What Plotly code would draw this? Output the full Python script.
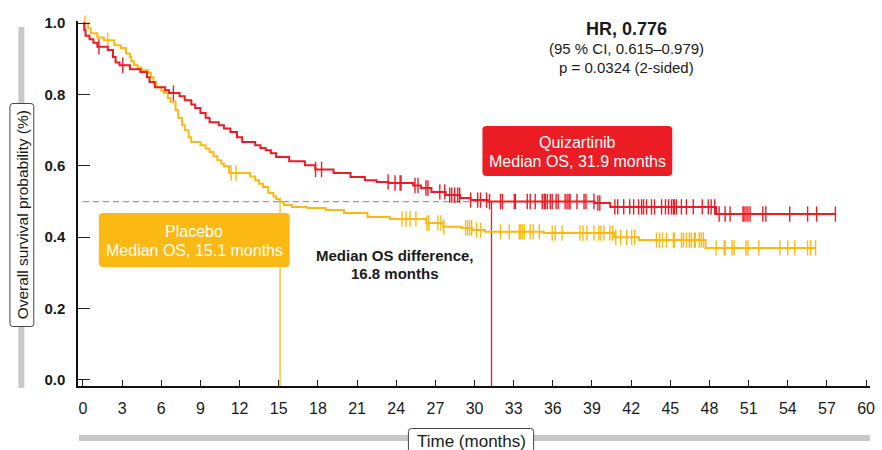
import numpy as np
import plotly.graph_objects as go

# ---------------- data ----------------
x_ticks = list(range(0, 61, 3))
y_ticks = [0.0, 0.2, 0.4, 0.6, 0.8, 1.0]
y_ticklabels = ["0.0", "0.2", "0.4", "0.6", "0.8", "1.0"]

# Quizartinib KM steps (months, survival probability after the step)
quiz_times = [0, 0.1, 0.2, 0.5, 0.8, 1.1, 1.9, 2.3, 2.5, 2.8, 3.6, 4.4, 4.9, 5.1, 5.5,
              6.3, 6.6, 7.4, 7.8, 8.3, 8.6, 9.0, 9.4, 9.7, 10.4, 10.8, 11.3, 11.8, 12.2,
              13.2, 13.6, 14.0, 14.4, 14.8, 15.8, 17.0, 17.8, 19.2, 20.5, 21.6, 22.5,
              23.4, 25.3, 25.9, 26.7, 27.8, 28.9, 29.7, 31.0, 39.2, 40.4, 48.5]
quiz_surv = [1.0, 0.98, 0.965, 0.955, 0.945, 0.934, 0.925, 0.905, 0.89, 0.882, 0.871, 0.863,
             0.848, 0.835, 0.82, 0.812, 0.804, 0.795, 0.784, 0.772, 0.762, 0.748, 0.735,
             0.722, 0.714, 0.705, 0.695, 0.68, 0.667, 0.658, 0.65, 0.644, 0.635, 0.625,
             0.613, 0.602, 0.59, 0.58, 0.569, 0.56, 0.555, 0.552, 0.545, 0.538, 0.527,
             0.518, 0.51, 0.504, 0.5, 0.496, 0.485, 0.465]
quiz_end = 57.65
quiz_censor = [1.22, 3.05, 6.93, 17.82, 18.28, 23.38, 23.91, 24.30, 24.37, 25.44, 25.67,
               26.28, 26.43, 27.34, 27.72, 28.10, 28.26, 28.48, 28.71, 28.86, 29.70, 30.24,
               30.46, 30.92, 31.15, 31.99, 32.14, 33.05, 33.13, 34.04, 34.27, 34.65, 35.19,
               35.34, 35.42, 35.57, 35.80, 35.95, 36.25, 36.41, 36.94, 37.09, 37.24, 37.32,
               37.85, 38.39, 38.54, 39.15, 39.45, 39.60, 40.75, 40.97, 41.43, 41.89, 42.19,
               42.57, 42.80, 42.95, 43.18, 43.56, 43.79, 44.33, 44.63, 44.86, 45.09, 45.24,
               45.32, 45.47, 45.85, 46.23, 46.76, 47.45, 47.91, 48.13, 48.40, 48.74, 49.20,
               49.58, 50.57, 50.65, 50.80, 50.95, 51.11, 52.09, 52.32, 54.15, 55.52, 56.21,
               57.65]

# Placebo KM steps
plac_times = [0, 0.4, 0.6, 1.1, 1.6, 2.4, 2.9, 3.3, 3.6, 3.7, 3.9, 4.2, 4.5, 5.0, 5.2, 5.4,
              5.6, 6.0, 6.2, 6.5, 6.7, 7.1, 7.3, 7.6, 7.8, 8.1, 8.3, 9.0, 9.4, 9.7, 10.0,
              10.3, 10.6, 10.8, 11.2, 12.8, 13.2, 13.5, 13.8, 14.2, 14.6, 14.8, 15.1, 15.4,
              16.0, 17.2, 18.6, 20.0, 21.8, 23.5, 26.3, 27.6, 29.0, 29.8, 30.8, 35.3, 40.7,
              42.6, 47.7]
plac_surv = [1.0, 0.986, 0.972, 0.96, 0.952, 0.938, 0.93, 0.915, 0.905, 0.893, 0.882, 0.875,
             0.868, 0.86, 0.848, 0.835, 0.82, 0.81, 0.804, 0.79, 0.78, 0.756, 0.734, 0.714,
             0.70, 0.68, 0.667, 0.658, 0.648, 0.639, 0.627, 0.616, 0.606, 0.599, 0.58, 0.57,
             0.56, 0.55, 0.541, 0.524, 0.514, 0.507, 0.499, 0.49, 0.485, 0.482, 0.476,
             0.468, 0.457, 0.451, 0.44, 0.429, 0.426, 0.42, 0.415, 0.412, 0.40, 0.392, 0.37]
plac_end = 56.13
plac_censor = [0.15, 1.90, 11.35, 11.73, 24.45, 24.75, 25.06, 25.51, 26.35, 26.50, 27.19,
               27.42, 27.65, 29.32, 29.47, 29.63, 29.78, 30.16, 30.46, 31.99, 32.67, 33.43,
               33.51, 33.66, 33.82, 34.27, 34.50, 34.96, 35.95, 36.18, 36.71, 38.08, 38.31,
               38.61, 39.15, 39.53, 39.68, 39.91, 40.37, 40.59, 40.82, 41.20, 41.66, 42.04,
               42.27, 43.94, 44.17, 44.40, 44.71, 45.24, 45.32, 45.85, 46.00, 46.23, 46.46,
               46.61, 46.84, 46.92, 47.22, 47.37, 47.53, 48.51, 49.12, 49.20, 49.73, 49.89,
               50.80, 50.95, 51.79, 53.39, 54.00, 54.53, 55.52, 55.75, 56.13]

median_drawn = {"Quizartinib": 31.3, "Placebo": 15.1}   # where the median drop-lines are drawn
median_level = 0.5

# ---------------- styling ----------------
RED = "#EC1C24"
YEL = "#FDB913"
FONT = "Liberation Sans, Arial, Helvetica, sans-serif"
X_RANGE = [-0.38, 60.3]
Y_RANGE = [-0.017, 1.006]


def step_value(times, surv, t):
    idx = np.searchsorted(np.asarray(times), np.asarray(t), side="right") - 1
    return np.asarray(surv)[idx]


fig = go.Figure()

# dashed median reference
fig.add_trace(go.Scatter(x=[0, median_drawn["Quizartinib"]], y=[median_level, median_level],
                         mode="lines", line=dict(color="#9A9A9A", width=1.3, dash="6px,4px"),
                         hoverinfo="skip", showlegend=False))
# vertical median drop-lines
for name, col in [("Placebo", YEL), ("Quizartinib", RED)]:
    fig.add_trace(go.Scatter(x=[median_drawn[name]] * 2, y=[median_level, Y_RANGE[0]],
                             mode="lines", line=dict(color=col, width=1.3),
                             hoverinfo="skip", showlegend=False))

for times, surv, end, cens, col, name in [
        (plac_times, plac_surv, plac_end, plac_censor, YEL, "Placebo"),
        (quiz_times, quiz_surv, quiz_end, quiz_censor, RED, "Quizartinib")]:
    xs = list(times) + [end]
    ys = list(surv) + [surv[-1]]
    fig.add_trace(go.Scatter(x=xs, y=ys, mode="lines", line=dict(color=col, width=2, shape="hv"),
                             name=name, showlegend=False))
    cy = step_value(times, surv, cens)
    fig.add_trace(go.Scatter(x=cens, y=cy, mode="markers", cliponaxis=False,
                             marker=dict(symbol="line-ns", size=11, line=dict(color=col, width=1.4)),
                             showlegend=False, hoverinfo="skip"))

# ---------------- layout helpers (pixel -> paper) ----------------
L, R, T, B = 78, 875, 21, 386
W, H = R - L, B - T


def pxx(x):
    return (x - L) / W


def pxy(y):
    return (B - y) / H


def rrect(x0, y0, x1, y1, r):
    def P(x, y):
        return f"{pxx(x):.5f},{pxy(y):.5f}"
    return (f"M{P(x0 + r, y0)} L{P(x1 - r, y0)} Q{P(x1, y0)} {P(x1, y0 + r)} "
            f"L{P(x1, y1 - r)} Q{P(x1, y1)} {P(x1 - r, y1)} L{P(x0 + r, y1)} "
            f"Q{P(x0, y1)} {P(x0, y1 - r)} L{P(x0, y0 + r)} Q{P(x0, y0)} {P(x0 + r, y0)} Z")


shapes = [
    # decorative gray axis bars
    dict(type="line", xref="paper", yref="paper", x0=pxx(21), x1=pxx(21), y0=pxy(27), y1=pxy(388),
         line=dict(color="#C8C8C8", width=6)),
    dict(type="line", xref="paper", yref="paper", x0=pxx(79), x1=pxx(875), y0=pxy(438), y1=pxy(438),
         line=dict(color="#C8C8C8", width=6)),
    # axis title boxes
    dict(type="path", xref="paper", yref="paper", path=rrect(9.5, 103.5, 33.5, 326.5, 3),
         fillcolor="white", line=dict(color="#444444", width=1)),
    dict(type="path", xref="paper", yref="paper", path=rrect(410.5, 428.5, 536.5, 456, 3),
         fillcolor="white", line=dict(color="#444444", width=1)),
    # group label boxes
    dict(type="path", xref="paper", yref="paper", path=rrect(485, 126, 676, 176, 4),
         fillcolor=RED, line=dict(width=0), layer="above"),
    dict(type="path", xref="paper", yref="paper", path=rrect(99, 213, 291, 267, 4),
         fillcolor=YEL, line=dict(width=0), layer="above"),
]


def ann(text, x, y, size, color="#1a1a1a", bold=False, angle=0):
    return dict(text=f"<b>{text}</b>" if bold else text, x=pxx(x), y=pxy(y),
                xref="paper", yref="paper", showarrow=False, xanchor="center",
                yanchor="middle", textangle=angle,
                font=dict(family=FONT, size=size, color=color))


annotations = [
    ann("HR, 0.776", 630, 29, 18, bold=True),
    ann("(95 % CI, 0.615–0.979)", 630, 48, 15),
    ann("p = 0.0324 (2-sided)", 630, 67, 15),
    ann("Quizartinib", 580.5, 142, 16, color="white"),
    ann("Median OS, 31.9 months", 580.5, 161, 16, color="white"),
    ann("Placebo", 195, 231, 16, color="white"),
    ann("Median OS, 15.1 months", 195, 250, 16, color="white"),
    ann("Median OS difference,", 397.5, 255, 15, bold=True),
    ann("16.8 months", 397.5, 273, 15, bold=True),
    ann("Overall survival probability (%)", 22, 215, 15.5, angle=-90),
    ann("Time (months)", 473.5, 441, 17),
]

fig.update_layout(
    width=882, height=450,
    margin=dict(l=L, r=882 - R, t=T, b=450 - B),
    paper_bgcolor="white", plot_bgcolor="white",
    showlegend=False,
    shapes=shapes, annotations=annotations,
    xaxis=dict(range=X_RANGE, tickmode="array", tickvals=x_ticks, ticks="inside", ticklen=6,
               tickwidth=1.2, tickcolor="#222", showline=True, linecolor="#111", linewidth=1.5,
               showgrid=False, zeroline=False, ticklabelstandoff=7,
               tickfont=dict(family=FONT, size=16, color="#1a1a1a")),
    yaxis=dict(range=Y_RANGE, tickmode="array", tickvals=y_ticks, ticktext=y_ticklabels,
               ticks="inside", ticklen=12, tickwidth=1.2, tickcolor="#222", showline=True,
               linecolor="#111", linewidth=1.5, showgrid=False, zeroline=False,
               ticklabelstandoff=8,
               tickfont=dict(family=FONT, size=15, color="#1a1a1a", weight="bold")),
)

fig.write_html("out.html")
